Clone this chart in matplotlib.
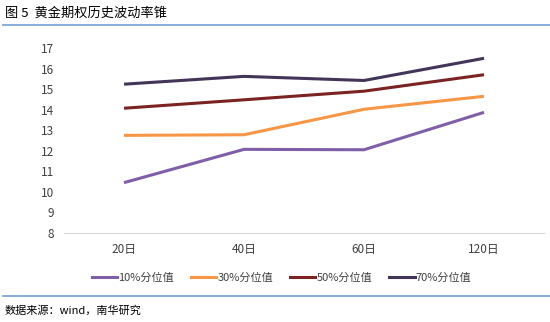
import matplotlib
matplotlib.use("Agg")
import matplotlib.pyplot as plt
from matplotlib.lines import Line2D

plt.rcParams["font.family"] = ["Noto Sans CJK SC", "DejaVu Sans"]

categories = ["20日", "40日", "60日", "120日"]
pct10 = [10.45, 12.07, 12.05, 13.87]
pct30 = [12.75, 12.78, 14.02, 14.65]
pct50 = [14.07, 14.48, 14.9, 15.7]
pct70 = [15.24, 15.62, 15.42, 16.5]
series_names = ["10%分位值", "30%分位值", "50%分位值", "70%分位值"]
colors = ["#7f5fa8", "#f79646", "#7b2322", "#433558"]

fig = plt.figure(figsize=(5.5, 3.22), dpi=100)
ax = fig.add_axes([0.1164, 0.2764, 0.8727, 0.5745])

x = range(len(categories))
for vals, name, c in zip([pct10, pct30, pct50, pct70], series_names, colors):
    ax.plot(x, vals, color=c, lw=2.2, label=name, solid_capstyle="butt")

ax.set_xlim(-0.5, 3.5)
ax.set_ylim(8, 17)
ax.set_yticks(range(8, 18))
ax.set_xticks(list(x))
ax.set_xticklabels(categories)
ax.tick_params(axis="both", length=0, labelsize=8.5, colors="#404040")
ax.tick_params(axis="y", pad=7)
ax.tick_params(axis="x", pad=7)
for s in ["top", "right", "left"]:
    ax.spines[s].set_visible(False)
ax.spines["bottom"].set_color("#d9d9d9")

handles = [Line2D([0], [0], color=c, lw=2.2) for c in colors]
fig.legend(handles, series_names, loc="center", bbox_to_anchor=(0.512, 0.137),
           ncol=4, frameon=False, fontsize=8, handlelength=2.3,
           handletextpad=0.1, columnspacing=1.5, labelcolor="#404040")

# title and footer
fig.text(0.009, 0.958, "图 5  黄金期权历史波动率锥", fontsize=9.5, va="center", color="#000000")
fig.add_artist(Line2D([0.005, 1.0], [1 - 25 / 322, 1 - 25 / 322], color="#7fa7d8", lw=1.3))
fig.add_artist(Line2D([0.005, 1.0], [1 - 296 / 322, 1 - 296 / 322], color="#7fa7d8", lw=1.3))
fig.text(0.009, 1 - 310 / 322, "数据来源：wind，南华研究", fontsize=8, va="center", color="#000000")

fig.savefig("out.png", dpi=100)
plt.close(fig)
